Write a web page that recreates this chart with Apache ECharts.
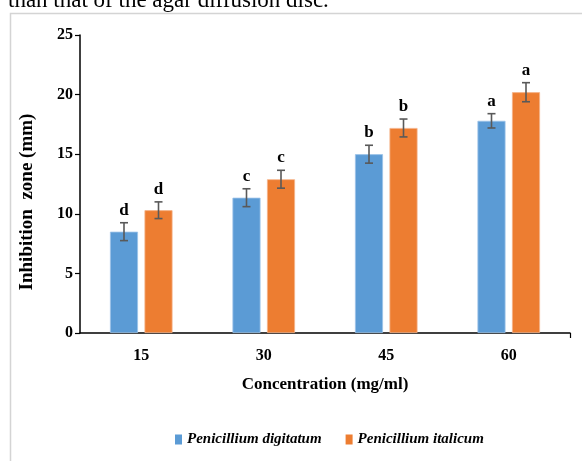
<!DOCTYPE html>
<html>
<head>
<meta charset="utf-8">
<script src="https://cdn.jsdelivr.net/npm/echarts@6/dist/echarts.min.js"></script>
<style>
html,body{margin:0;padding:0;background:#fff;}
#main{width:582px;height:461px;}
</style>
</head>
<body>
<div id="main"></div>
<script>
const categories = ['15', '30', '45', '60'];
const seriesNames = ['Penicillium digitatum', 'Penicillium italicum'];
const digitatum = [8.5, 11.35, 15.0, 17.8];
const italicum = [10.3, 12.9, 17.2, 20.2];
const digitatumErr = [0.75, 0.75, 0.75, 0.6];
const italicumErr = [0.7, 0.75, 0.75, 0.8];
const digitatumLetters = ['d', 'c', 'b', 'a'];
const italicumLetters = ['d', 'c', 'b', 'a'];
const yTicks = [0, 5, 10, 15, 20, 25];

const colors = ['#5B9BD5', '#ED7D31'];
const serif = 'Liberation Serif, Times New Roman, serif';
const BAR_W = 0.229, BAR_GAP = 0.23;

function errSeries(values, errs, letters, side) {
  return {
    type: 'custom',
    xAxisIndex: 0, yAxisIndex: 0,
    z: 5,
    silent: true,
    data: values.map((v, i) => [i, v - errs[i], v + errs[i], letters[i]]),
    renderItem: function (params, api) {
      const band = api.size([1, 0])[0];
      const bw = band * BAR_W;
      const off = side * (bw + bw * BAR_GAP) / 2;
      const lo = api.coord([api.value(0), api.value(1)]);
      const hi = api.coord([api.value(0), api.value(2)]);
      const x = lo[0] + off;
      const cap = 4;
      const st = { stroke: '#595959', lineWidth: 1.6 };
      return {
        type: 'group',
        children: [
          { type: 'line', shape: { x1: x, y1: lo[1], x2: x, y2: hi[1] }, style: st },
          { type: 'line', shape: { x1: x - cap, y1: lo[1], x2: x + cap, y2: lo[1] }, style: st },
          { type: 'line', shape: { x1: x - cap, y1: hi[1], x2: x + cap, y2: hi[1] }, style: st },
          { type: 'text', x: x, y: hi[1] - 4, style: {
              text: api.value(3), fontFamily: serif, fontWeight: 'bold', fontSize: 17,
              fill: '#000', align: 'center', verticalAlign: 'bottom' } }
        ]
      };
    }
  };
}

const chart = echarts.init(document.getElementById('main'), null, { renderer: 'canvas' });
chart.setOption({
  animation: false,
  color: colors,
  grid: { left: 80, right: 12, top: 35, bottom: 128, containLabel: false },
  graphic: [
    { type: 'rect', shape: { x: 10.5, y: 13.5, width: 600, height: 500 },
      style: { fill: 'none', stroke: '#d4d4d4', lineWidth: 1.5 }, z: -10 },
    { type: 'text', x: 8, y: 12, style: { text: 'than that of the agar diffusion disc.',
      fontFamily: serif, fontSize: 23, fill: '#000', verticalAlign: 'bottom' } },
    { type: 'text', x: 27, y: 202, rotation: Math.PI / 2, style: { text: 'Inhibition  zone (mm)',
      fontFamily: serif, fontWeight: 'bold', fontSize: 19, fill: '#000',
      align: 'center', verticalAlign: 'middle' } }
  ],
  legend: {
    bottom: 9, left: 170,
    itemWidth: 7, itemHeight: 10, itemGap: 24,
    icon: 'rect',
    itemStyle: { borderWidth: 0 },
    textStyle: { fontFamily: serif, fontStyle: 'italic', fontWeight: 'bold', fontSize: 15, color: '#000' },
    data: seriesNames
  },
  xAxis: [{
    type: 'category',
    data: categories,
    axisLine: { lineStyle: { color: '#000', width: 1.5 } },
    axisTick: { alignWithLabel: true, length: 5, lineStyle: { color: '#000', width: 1.2 } },
    axisLabel: { color: '#000', fontFamily: serif, fontWeight: 'bold', fontSize: 16, margin: 15 },
    name: 'Concentration (mg/ml)',
    nameLocation: 'middle',
    nameGap: 43,
    nameTextStyle: { color: '#000', fontFamily: serif, fontWeight: 'bold', fontSize: 17 }
  }, {
    type: 'value', position: 'bottom', min: 0, max: 1,
    axisLine: { show: false },
    axisTick: { show: true, customValues: [1], length: 5, lineStyle: { color: '#000', width: 1.2 } },
    axisLabel: { show: false },
    splitLine: { show: false }
  }],
  yAxis: {
    type: 'value',
    min: yTicks[0], max: yTicks[yTicks.length - 1], interval: 5,
    axisLine: { show: true, lineStyle: { color: '#000', width: 1.5 } },
    axisTick: { show: true, length: 5, lineStyle: { color: '#000', width: 1.2 } },
    axisLabel: { color: '#000', fontFamily: serif, fontWeight: 'bold', fontSize: 16, margin: 7 },
    splitLine: { show: false }
  },
  series: [
    { name: seriesNames[0], type: 'bar', data: digitatum, barWidth: (BAR_W * 100) + '%', barGap: (BAR_GAP * 100) + '%',
      itemStyle: { color: colors[0], borderColor: '#9cc3e8', borderWidth: 0.8 } },
    { name: seriesNames[1], type: 'bar', data: italicum, barWidth: (BAR_W * 100) + '%', barGap: (BAR_GAP * 100) + '%',
      itemStyle: { color: colors[1], borderColor: '#f5b48a', borderWidth: 0.8 } },
    errSeries(digitatum, digitatumErr, digitatumLetters, -1),
    errSeries(italicum, italicumErr, italicumLetters, 1)
  ]
});
</script>
</body>
</html>
